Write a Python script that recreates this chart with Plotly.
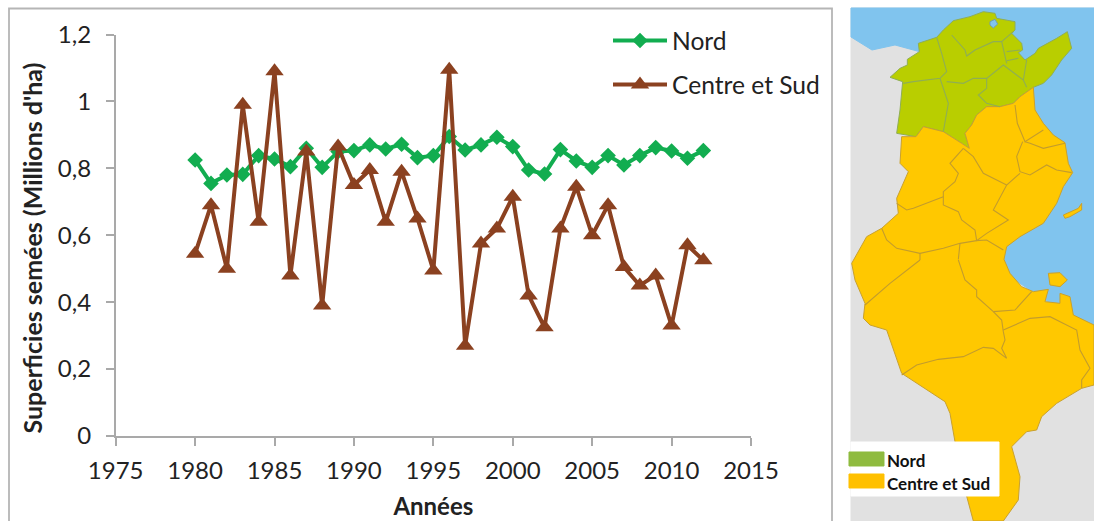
import plotly.graph_objects as go

# ---- chart data ----
annees = list(range(1980, 2013))
nord = [0.825, 0.755, 0.78, 0.782, 0.838, 0.828, 0.805, 0.86, 0.803, 0.85, 0.853,
        0.87, 0.858, 0.872, 0.832, 0.838, 0.895, 0.855, 0.87, 0.893, 0.865, 0.795,
        0.783, 0.856, 0.822, 0.803, 0.838, 0.81, 0.838, 0.862, 0.852, 0.83, 0.853]
centre_sud = [0.545, 0.69, 0.50, 0.99, 0.64, 1.09, 0.48, 0.85, 0.39, 0.865, 0.75,
              0.795, 0.64, 0.79, 0.65, 0.495, 1.095, 0.27, 0.575, 0.62, 0.715, 0.42,
              0.325, 0.62, 0.745, 0.60, 0.69, 0.505, 0.45, 0.48, 0.33, 0.57, 0.525]

W, H = 1094, 521
FONT = "Lato"
TXT = "#222222"
AX = "#a9a9a9"

# ---- illustrative map outlines (picture pixels, x3 in two crops) ----
def a(pts):  # upper crop
    return [(830 + x / 3, y / 3) for x, y in pts]
def b(pts):  # lower crop
    return [(830 + x / 3, 260 + y / 3) for x, y in pts]

def path(pts, close=True):
    s = "M " + " L ".join(f"{x / W:.5f},{1 - y / H:.5f}" for x, y in pts)
    return s + (" Z" if close else "")

sea = [(851, 8), (1094, 8), (1094, 330), (1060, 310), (1000, 270), (950, 60),
       (895, 45), (872, 50), (851, 37)]

green_region = a([(180, 232), (210, 205), (232, 195), (232, 178), (268, 155), (265, 130),
    (320, 112), (340, 90), (370, 62), (420, 50), (460, 35), (495, 40), (500, 55), (555, 65),
    (555, 90), (545, 100), (575, 130), (578, 150), (565, 158), (585, 180), (615, 160),
    (625, 145), (680, 115), (712, 95), (725, 145), (695, 180), (665, 225), (640, 250),
    (610, 262), (570, 290), (550, 310), (510, 320), (470, 320), (440, 345), (425, 375),
    (405, 400), (418, 445), (395, 430), (340, 395), (280, 380), (258, 410), (200, 400),
    (210, 330), (218, 245)])

orange_region = (
    a([(610, 262), (615, 330), (640, 370), (670, 405), (705, 428), (715, 490), (728, 518),
       (700, 560), (680, 610), (640, 670), (570, 710), (530, 740), (522, 778)])
    + b([(540, 40), (575, 80), (610, 95), (655, 88), (645, 125), (690, 130), (690, 100),
         (720, 110), (730, 165), (792, 195), (792, 375), (755, 385), (680, 430), (635, 470),
         (620, 510), (590, 515), (545, 560), (570, 650), (565, 720), (520, 783), (430, 783),
         (405, 690), (375, 545), (360, 460), (345, 425), (215, 340), (170, 210), (120, 195),
         (100, 175), (105, 130), (75, 60), (65, 10)])
    + a([(110, 710), (155, 685), (205, 640), (200, 595), (235, 515), (210, 490), (215, 410),
         (258, 410), (280, 380), (340, 395), (395, 430), (418, 445), (405, 400), (425, 375),
         (440, 345), (470, 320), (510, 320), (550, 310), (570, 290)]))

djerba = b([(655, 40), (690, 38), (712, 60), (690, 80), (660, 75)])
kerkennah = a([(700, 645), (745, 625), (755, 610), (755, 630), (720, 650), (705, 655)])
lake = a([(480, 65), (495, 58), (503, 72), (490, 84), (480, 75)])

green_borders = [a(p) for p in [
    [(320, 112), (335, 160), (350, 215), (330, 235), (250, 245), (220, 250)],
    [(330, 235), (355, 310), (340, 395)],
    [(350, 245), (400, 250), (430, 235), (470, 235), (520, 195), (580, 240), (590, 262)],
    [(470, 235), (470, 265), (445, 285), (470, 310), (510, 320)],
    [(365, 105), (405, 150), (410, 168), (435, 150), (490, 125), (515, 125), (530, 190)],
    [(515, 125), (550, 95)],
    [(530, 155), (570, 150)],
    [(530, 182), (565, 175)],
    [(580, 240), (590, 180)],
]]
orange_borders = [a(p) for p in [
    [(555, 315), (562, 370), (585, 425), (640, 390)],
    [(585, 425), (600, 430), (640, 445), (705, 430)],
    [(578, 425), (560, 470), (570, 515), (600, 525), (650, 495), (680, 510), (725, 518)],
    [(570, 520), (530, 555), (490, 630), (535, 660), (470, 700), (440, 722)],
    [(400, 445), (430, 470), (460, 520), (530, 555)],
    [(400, 445), (360, 490), (385, 520), (375, 545), (340, 575), (340, 615), (385, 635),
     (395, 660), (435, 690), (440, 722), (470, 720), (520, 750)],
    [(340, 590), (250, 625), (230, 630), (200, 610)],
    [(155, 685), (170, 720), (200, 745), (270, 760), (340, 745), (390, 730), (440, 722)],
    [(270, 760), (270, 780)],
    [(390, 730), (385, 778)],
]] + [b(p) for p in [
    [(270, 0), (180, 70), (105, 135)],
    [(385, 0), (405, 60), (440, 90), (440, 110), (490, 155), (515, 180), (520, 215),
     (525, 240), (515, 265), (530, 295), (490, 265), (460, 262), (400, 290), (325, 298),
     (260, 315), (215, 345)],
    [(490, 155), (555, 150), (605, 95)],
    [(520, 210), (600, 175), (660, 170), (740, 210), (750, 270), (780, 325), (755, 360), (755, 385)],
]]

SEA, LAND = "#80c4ee", "#e1e1e1"
GREEN, ORANGE = "#b9ce00", "#ffc800"
shapes = []
def poly(pts, fill, line=None, lw=1):
    shapes.append(dict(type="path", path=path(pts), xref="paper", yref="paper", layer="below",
                       fillcolor=fill, line=dict(color=line or fill, width=lw)))
def stroke(pts, color, lw=1.1):
    shapes.append(dict(type="path", path=path(pts, False), xref="paper", yref="paper",
                       layer="below", line=dict(color=color, width=lw)))

# chart frame
stroke([(9, 521), (9, 8.5), (832, 8.5), (832, 521)], "#b5b5b5", 1.8)
# map
poly([(851, 8), (1094, 8), (1094, 521), (851, 521)], LAND)
poly(sea, SEA)
poly(green_region, GREEN, "#8fae55", 1)
poly(orange_region, ORANGE, "#c9a12e", 1)
poly(djerba, ORANGE, "#c9a12e", 1)
poly(kerkennah, ORANGE, "#c9a12e", 1)
poly(lake, SEA, "#6f9fb0", 1)
for p in green_borders:
    stroke(p, "#8fae55")
for p in orange_borders:
    stroke(p, "#c39c2c")
# map key
poly([(851, 442), (999, 442), (999, 496), (851, 496)], "white")
poly([(849, 452), (884, 452), (884, 466), (849, 466)], "#8fbb3f")
poly([(849, 474), (884, 474), (884, 488), (849, 488)], "#ffc000")

fig = go.Figure()
fig.add_trace(go.Scatter(x=annees, y=nord, name="Nord", legendgroup="n", mode="lines+markers",
                         line=dict(color="#12ad50", width=4),
                         marker=dict(symbol="diamond", size=12, color="#12ad50")))
fig.add_trace(go.Scatter(x=annees, y=centre_sud, name="Centre et Sud", legendgroup="c",
                         mode="lines+markers", line=dict(color="#8b4120", width=4),
                         marker=dict(symbol="triangle-up", size=16, color="#8b4120")))

fig.update_layout(
    width=W, height=H, autosize=False,
    margin=dict(l=0, r=0, t=0, b=0, autoexpand=False),
    paper_bgcolor="white", plot_bgcolor="white",
    separators=", ",
    font=dict(family=FONT, color=TXT),
    shapes=shapes,
    showlegend=True,
    legend=dict(x=608 / W, y=1 - 18 / H, xanchor="left", yanchor="top", bgcolor="rgba(0,0,0,0)",
                itemwidth=54, tracegroupgap=9, traceorder="grouped",
                font=dict(family=FONT, size=24.6, color=TXT)),
    xaxis=dict(domain=[115.7 / W, 751 / W], range=[1975, 2015], dtick=5, tick0=1975,
               automargin=False, ticklabelstandoff=4,
               showgrid=False, zeroline=False, showline=True, linecolor=AX, linewidth=1.5,
               ticks="outside", ticklen=8, tickcolor=AX, tickwidth=1.5,
               tickfont=dict(family=FONT, size=24, color=TXT),
               title=dict(text="<b>Années</b>", standoff=16,
                          font=dict(family=FONT, size=24, color=TXT))),
    yaxis=dict(domain=[1 - 436 / H, 1 - 34.5 / H], range=[0, 1.2], dtick=0.2,
               automargin=False, ticklabelstandoff=10,
               showgrid=False, zeroline=False, showline=True, linecolor=AX, linewidth=1.5,
               ticks="outside", ticklen=8, tickcolor=AX, tickwidth=1.5,
               tickfont=dict(family=FONT, size=24, color=TXT)),
    annotations=[
        dict(text="<b>Superficies semées (Millions d'ha)</b>", x=31 / W, y=1 - 248.5 / H,
             xref="paper", yref="paper", xanchor="center", yanchor="middle", textangle=-90,
             showarrow=False, font=dict(family=FONT, size=25, color=TXT)),
        dict(text="<b>Nord</b>", x=885 / W, y=1 - 460 / H, xref="paper", yref="paper", xanchor="left",
             yanchor="middle", showarrow=False, font=dict(family=FONT, size=17, color="#111111")),
        dict(text="<b>Centre et Sud</b>", x=885 / W, y=1 - 483 / H, xref="paper", yref="paper",
             xanchor="left", yanchor="middle", showarrow=False,
             font=dict(family=FONT, size=17, color="#111111")),
    ],
)
fig.write_html("out.html", config={"displayModeBar": False},
               post_script="document.body.style.margin='0';document.body.style.overflow='hidden';")
